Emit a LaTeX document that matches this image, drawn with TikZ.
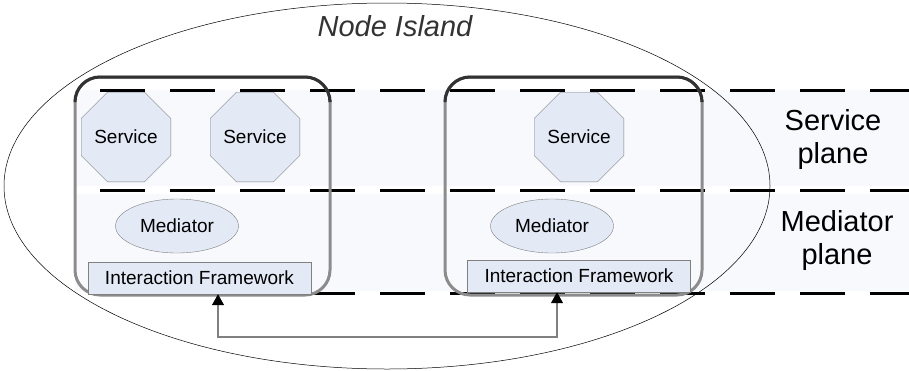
\documentclass[tikz,border=0pt]{standalone}
\usepackage{fontspec}
\setmainfont{Liberation Sans}
\usepackage{tikz}
\usetikzlibrary{arrows.meta}
\usetikzlibrary{shapes}
\definecolor{bandfill}{RGB}{247,249,253}
\definecolor{partfill}{RGB}{227,233,245}
\definecolor{partline}{RGB}{128,128,128}
\definecolor{boxside}{RGB}{140,140,140}
\definecolor{boxtop}{RGB}{50,50,50}
\newcommand{\smallfont}[0]{\fontsize{19}{21}\selectfont}
\newcommand{\bigfont}[0]{\fontsize{29}{33}\selectfont}
\tikzset{
service/.style={
  regular polygon,
  regular polygon sides=8,
  minimum size=94pt,
  inner sep=0pt,
  draw=partline,
  fill=partfill,
  font=\smallfont
  }
}
\tikzset{
mediator/.style={
  ellipse,
  minimum width=123pt,
  minimum height=54pt,
  inner sep=0pt,
  draw=partline,
  fill=partfill,
  font=\smallfont
  }
}
\tikzset{
framework/.style={
  rectangle,
  minimum width=223pt,
  minimum height=32pt,
  inner sep=0pt,
  draw=partline,
  fill=partfill,
  font=\smallfont
  }
}
\tikzset{
planelabel/.style={
  align=center,
  font=\bigfont
  }
}
\tikzstyle{planeline} = [draw,black,line width=3pt,dash pattern=on 45pt off 25pt,dash phase=45pt]
\tikzstyle{hostside} = [draw=boxside,line width=3pt,rounded corners=25pt]
\tikzstyle{hosttop} = [draw=boxtop,line width=3pt,rounded corners=25pt]
\tikzstyle{link} = [draw=partline,line width=1.2pt,{Triangle[width=12pt,length=11pt,color=black]}-{Triangle[width=12pt,length=11pt,color=black]}]
\tikzset{%
    boundingBox/.style={use as bounding box},
    }

\begin{document}
\begin{tikzpicture}[x=1pt, y=-1pt]
        \path[boundingBox] (0,0) rectangle (909,370);
	\pgfdeclarelayer{background}
	\pgfdeclarelayer{foreground}
	\pgfsetlayers{background,main,foreground}

	\begin{pgfonlayer}{background}
		%planes
		\fill[bandfill] (75,90) rectangle (909,186);
		\fill[bandfill] (75,194) rectangle (909,291);
		\draw[planeline] (75,90) -- (909,90);
		\draw[planeline] (75,190) -- (909,190);
		\draw[planeline] (75,293) -- (909,293);
		%island
		\draw[black,line width=0.5pt] (387,186) ellipse [x radius=383, y radius=183];
	\end{pgfonlayer}

	\begin{pgfonlayer}{main}
		%hosts
		\draw[hostside] (75,77) rectangle (330,295);
		\draw[hosttop] (75,100) -- (75,77) -- (330,77) -- (330,100);
		\draw[hostside] (445,77) rectangle (702,295);
		\draw[hosttop] (445,100) -- (445,77) -- (702,77) -- (702,100);

		%vertices
		\node (island) at (395,26) [font=\bigfont\itshape, color=black!80] {Node Island};

		\node (svc0) at (126,137) [service] {Service};
		\node (svc1) at (255,137) [service] {Service};
		\node (svc2) at (579,137) [service] {Service};

		\node (med0) at (177,226) [mediator] {Mediator};
		\node (med1) at (552,226) [mediator] {Mediator};

		\node (ifw0) at (199.5,278) [framework] {Interaction Framework};
		\node (ifw1) at (579,276) [framework] {Interaction Framework};

		\node (splane) at (833,139) [planelabel] {Service\\plane};
		\node (mplane) at (837,240) [planelabel] {Mediator\\plane};

		%edges
		\coordinate (bus0) at (218,337);
		\coordinate (bus1) at (557,337);
		\draw[link] (bus0 |- ifw0.south) -- (bus0) -- (bus1) -- (bus1 |- ifw1.south);
	\end{pgfonlayer}
\end{tikzpicture}
\end{document}
